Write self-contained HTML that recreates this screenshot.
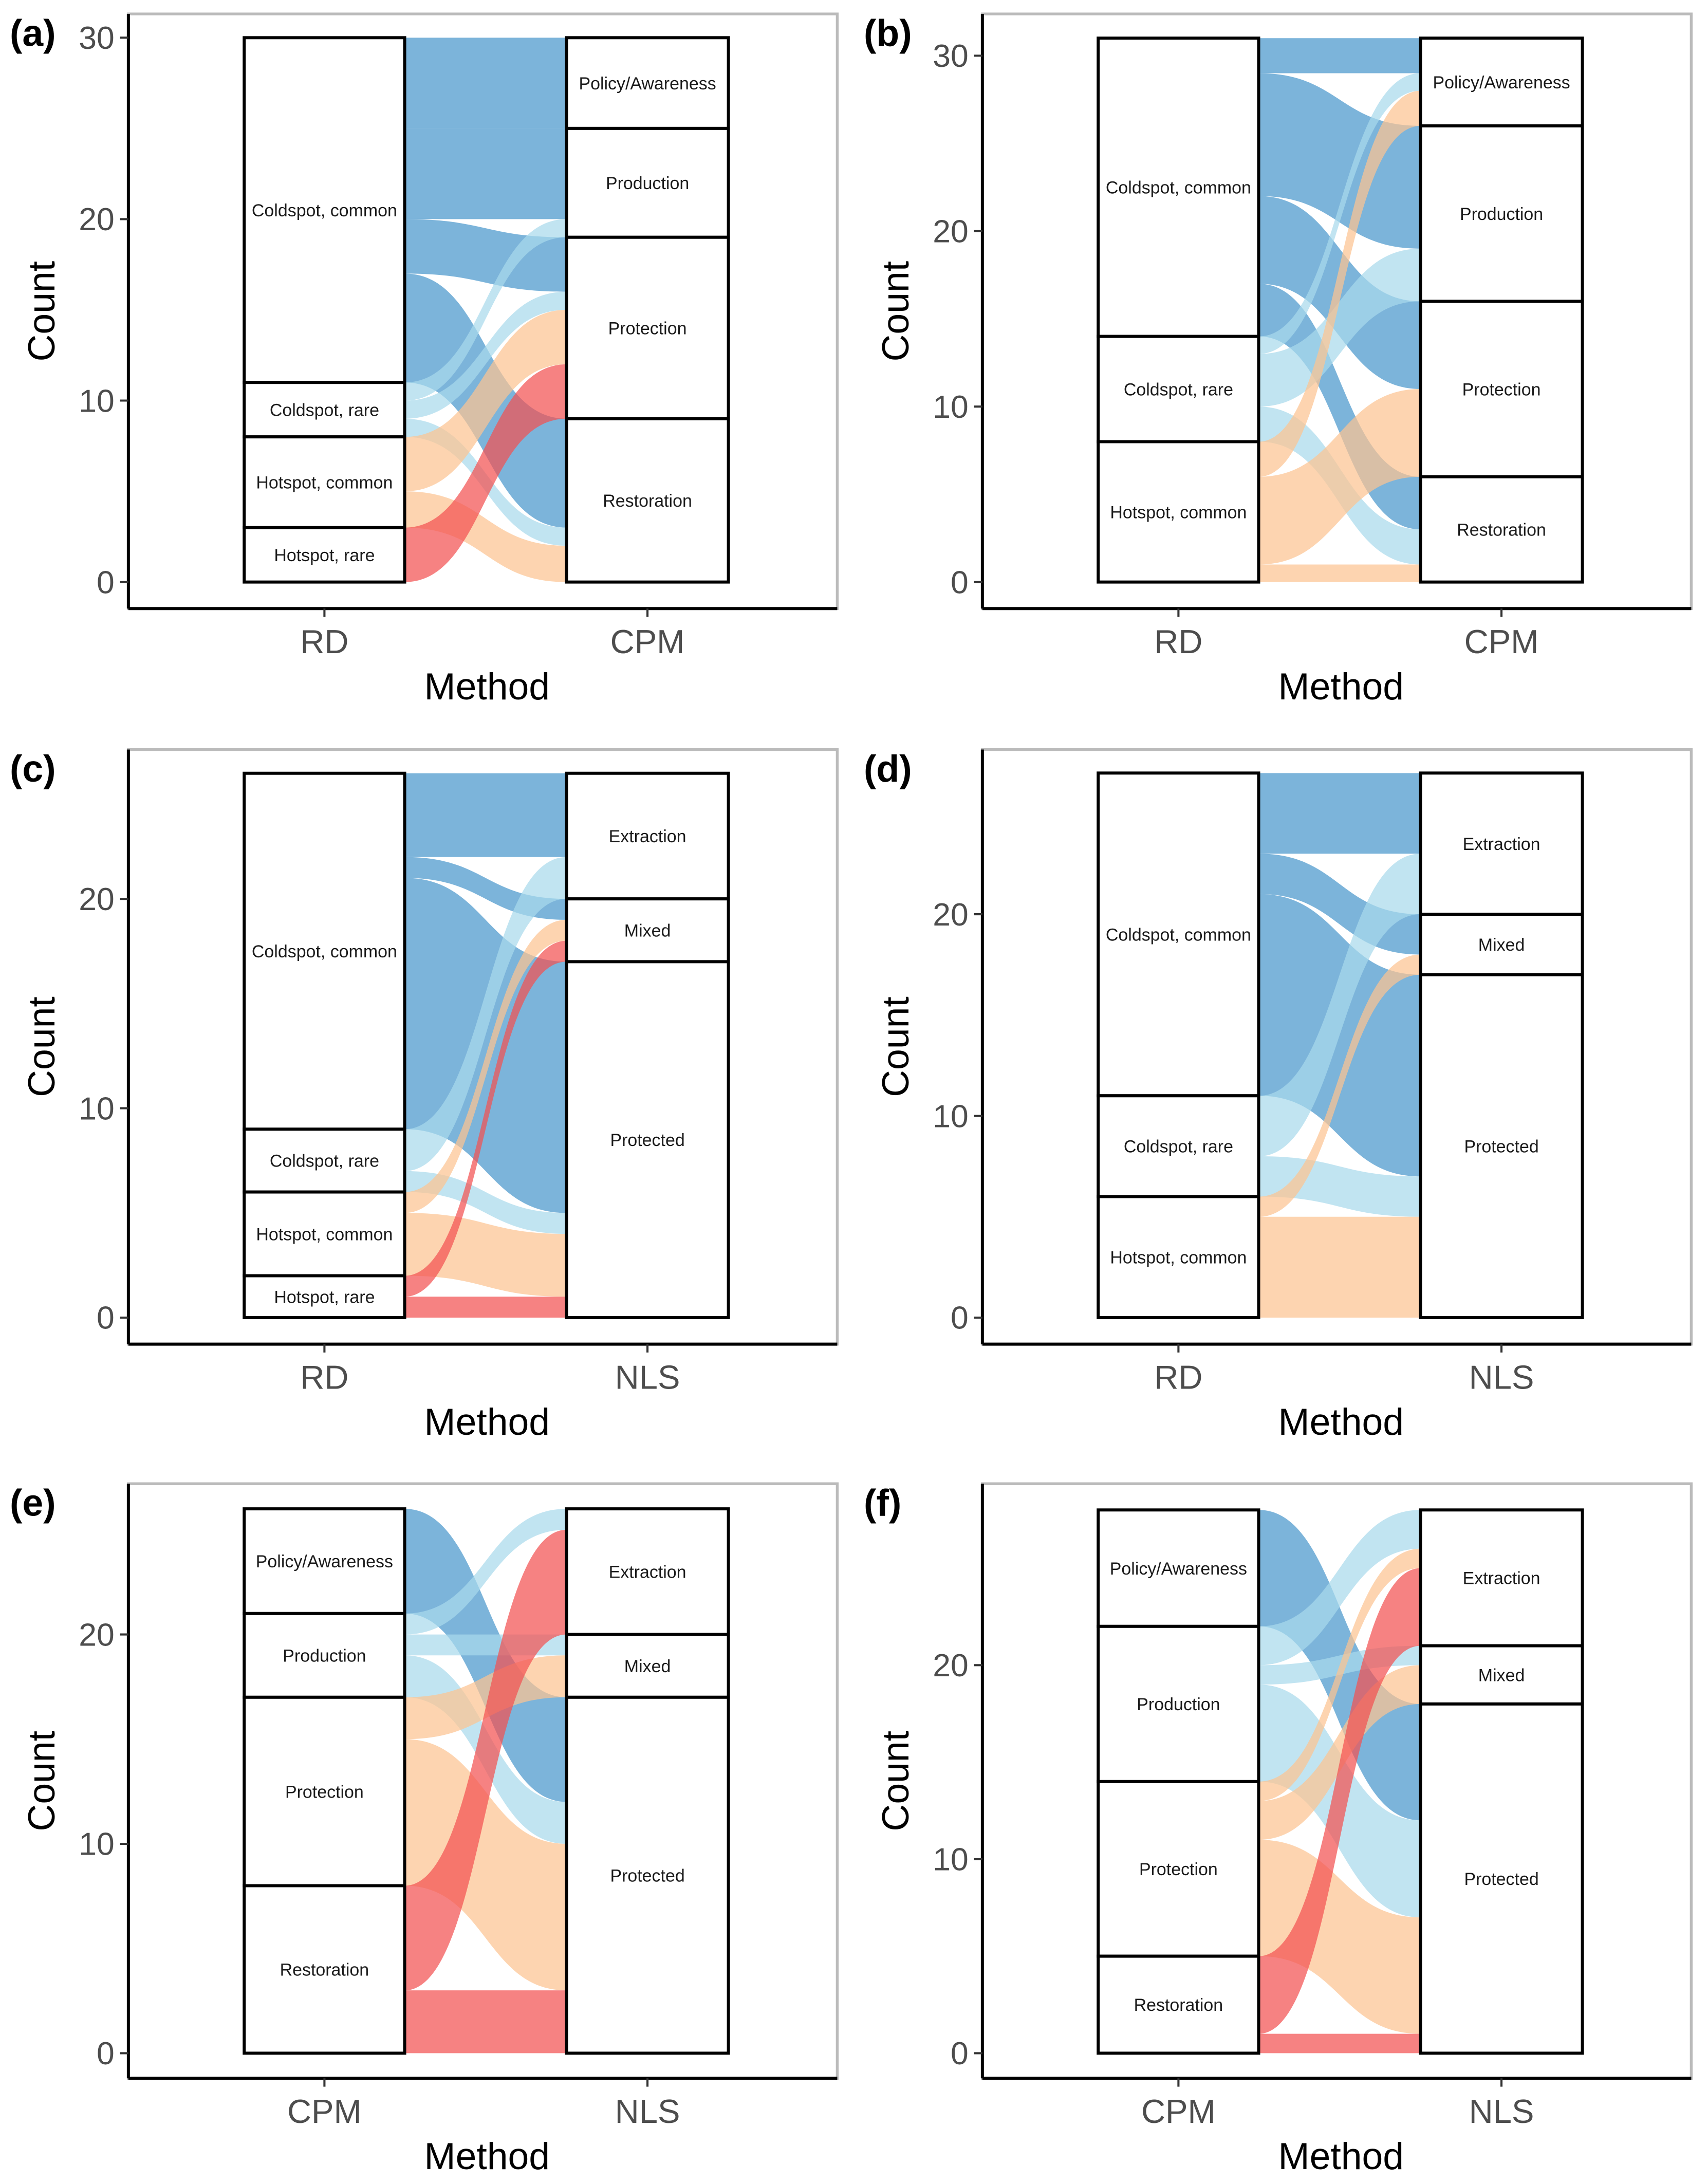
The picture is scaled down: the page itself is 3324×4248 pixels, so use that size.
<!DOCTYPE html>
<html><head><meta charset="utf-8"><style>
html,body{margin:0;padding:0;background:#fff}
svg{display:block}
text{font-family:"Liberation Sans",Arial,sans-serif}
</style></head><body>
<svg id="chart" xmlns="http://www.w3.org/2000/svg" width="3324" height="4248" viewBox="0 0 1224 1564" preserveAspectRatio="none"></svg>
<script>
// ---- data ----
const rdStrata3 = ["Coldspot, common","Coldspot, rare","Hotspot, common"];
const rdStrata4 = ["Coldspot, common","Coldspot, rare","Hotspot, common","Hotspot, rare"];
const cpmStrata = ["Policy/Awareness","Production","Protection","Restoration"];
const nlsStrata = ["Extraction","Mixed","Protected"];
// flows: rows = left strata, cols = right strata
const flowsA = [[5,5,3,6],[0,1,1,1],[0,0,3,2],[0,0,3,0]];
const flowsB = [[2,7,5,3],[1,3,0,2],[2,0,5,1]];
const flowsC = [[4,1,12],[2,0,1],[0,1,3],[0,1,1]];
const flowsD = [[4,2,10],[3,0,2],[0,1,5]];
const flowsE = [[0,0,5],[1,1,2],[0,2,7],[5,0,3]];
const flowsF = [[0,0,6],[2,1,5],[1,2,6],[4,0,1]];
const ticksTop = [0,10,20,30];
const ticksLow = [0,10,20];
const colors = ["#4a97cc","#a9d9ec","#fcc491","#f25252"];

const panels = [
 {id:"a",L:rdStrata4,R:cpmStrata,F:flowsA,lx:"RD",rx:"CPM",ox:0,oy:0,zero:417,unit:13,ticks:ticksTop},
 {id:"b",L:rdStrata3,R:cpmStrata,F:flowsB,lx:"RD",rx:"CPM",ox:612,oy:0,zero:417,unit:12.57,ticks:ticksTop},
 {id:"c",L:rdStrata4,R:nlsStrata,F:flowsC,lx:"RD",rx:"NLS",ox:0,oy:527,zero:944,unit:15,ticks:ticksLow},
 {id:"d",L:rdStrata3,R:nlsStrata,F:flowsD,lx:"RD",rx:"NLS",ox:612,oy:527,zero:944,unit:14.45,ticks:ticksLow},
 {id:"e",L:cpmStrata,R:nlsStrata,F:flowsE,lx:"CPM",rx:"NLS",ox:0,oy:1053,zero:1471,unit:15,ticks:ticksLow},
 {id:"f",L:cpmStrata,R:nlsStrata,F:flowsF,lx:"CPM",rx:"NLS",ox:612,oy:1053,zero:1471,unit:13.9,ticks:ticksLow}
];
const svg = document.getElementById('chart');
const NS = "http://www.w3.org/2000/svg";
function mk(tag, attrs, parent){const e=document.createElementNS(NS,tag);for(const k in attrs)e.setAttribute(k,attrs[k]);(parent||svg).appendChild(e);return e;}

panels.forEach(p=>{
  const g = mk('g',{});
  
  
  const ax = 92+p.ox, ar = 600+p.ox, top = 10+p.oy, bot = 436+p.oy;
  const y = v => p.zero - v*p.unit;
  const lx1 = 175+p.ox, lx2 = 290+p.ox, rx1 = 406+p.ox, rx2 = 522+p.ox;
  const br = mk('rect',{x:ax,y:top,width:ar-ax,height:bot-top,fill:"none",stroke:"#bbb","stroke-width":2},g);
  
  
  const nL=p.L.length, nR=p.R.length;
  const lTot=p.L.map((_,i)=>p.F[i].reduce((a,b)=>a+b,0));
  const rTot=p.R.map((_,j)=>p.F.reduce((a,r)=>a+r[j],0));
  const total=lTot.reduce((a,b)=>a+b,0);
  const lTop=[];let c=total;lTot.forEach((t,i)=>{lTop.push(c);c-=t;});
  const rTop=[];c=total;rTot.forEach((t,j)=>{rTop.push(c);c-=t;});
  const lCur=lTop.slice();
  const leftPos={};
  for(let i=0;i<nL;i++){for(let j=0;j<nR;j++){const v=p.F[i][j];if(!v)continue;leftPos[i+'_'+j]=[lCur[i],lCur[i]-v];lCur[i]-=v;}}
  const rCur=rTop.slice();const rightPos={};
  for(let j=0;j<nR;j++){for(let i=0;i<nL;i++){const v=p.F[i][j];if(!v)continue;rightPos[i+'_'+j]=[rCur[j],rCur[j]-v];rCur[j]-=v;}}
  const xm=(lx2+rx1)/2;
  for(let i=0;i<nL;i++)for(let j=0;j<nR;j++){
    const v=p.F[i][j];if(!v)continue;
    const [a1,b1]=leftPos[i+'_'+j],[a2,b2]=rightPos[i+'_'+j];
    const d=`M${lx1},${y(a1)} L${lx2},${y(a1)} C${xm},${y(a1)} ${xm},${y(a2)} ${rx1},${y(a2)} L${rx2},${y(a2)} L${rx2},${y(b2)} L${rx1},${y(b2)} C${xm},${y(b2)} ${xm},${y(b1)} ${lx2},${y(b1)} L${lx1},${y(b1)} Z`;
    const f=mk('path',{d:d,fill:colors[i],"fill-opacity":0.72},g);
    
    
  }
  function strata(names,tops,tots,x1,x2,side){
    names.forEach((n,k)=>{
      const r=mk('rect',{x:x1,y:y(tops[k]),width:x2-x1,height:tots[k]*p.unit,fill:"#fff",stroke:"#000","stroke-width":2.2},g);
      
      
      const t=mk('text',{x:(x1+x2)/2,y:y(tops[k]-tots[k]/2)+4.5,"font-size":12.5,"text-anchor":"middle",fill:"#1a1a1a"},g);
      t.textContent=n;
      
      
    });
  }
  strata(p.L,lTop,lTot,lx1,lx2,'left');
  strata(p.R,rTop,rTot,rx1,rx2,'right');
  mk('line',{x1:ax,y1:top,x2:ax,y2:bot,stroke:"#000","stroke-width":2.2},g);
  mk('line',{x1:ax,y1:bot,x2:ar,y2:bot,stroke:"#000","stroke-width":2.2},g);
  p.ticks.forEach(t=>{
    mk('line',{x1:ax-6,y1:y(t),x2:ax,y2:y(t),stroke:"#333","stroke-width":1.5},g);
    const tt=mk('text',{x:ax-10,y:y(t)+8,"font-size":23,"text-anchor":"end",fill:"#4d4d4d"},g);
    tt.textContent=t;
    
    
  });
  [[p.lx,(lx1+lx2)/2],[p.rx,(rx1+rx2)/2]].forEach(([lab,x])=>{
    mk('line',{x1:x,y1:bot,x2:x,y2:bot+6,stroke:"#333","stroke-width":1.5},g);
    const tt=mk('text',{x:x,y:bot+32,"font-size":24,"text-anchor":"middle",fill:"#4d4d4d"},g);
    tt.textContent=lab;
    
    
  });
  const xt=mk('text',{x:(ax+ar)/2+3,y:bot+65,"font-size":27,"text-anchor":"middle",fill:"#000"},g);
  xt.textContent="Method";
  
  
  const yt=mk('text',{x:0,y:0,"font-size":27,"text-anchor":"middle",fill:"#000",transform:`translate(${39+p.ox},${(top+bot)/2}) rotate(-90)`},g);
  yt.textContent="Count";
  
  
  const pl=mk('text',{x:7+p.ox,y:33+p.oy,"font-size":27,"font-weight":"bold",fill:"#000"},g);
  pl.textContent="("+p.id+")";
  
  
});
</script>
</body></html>
